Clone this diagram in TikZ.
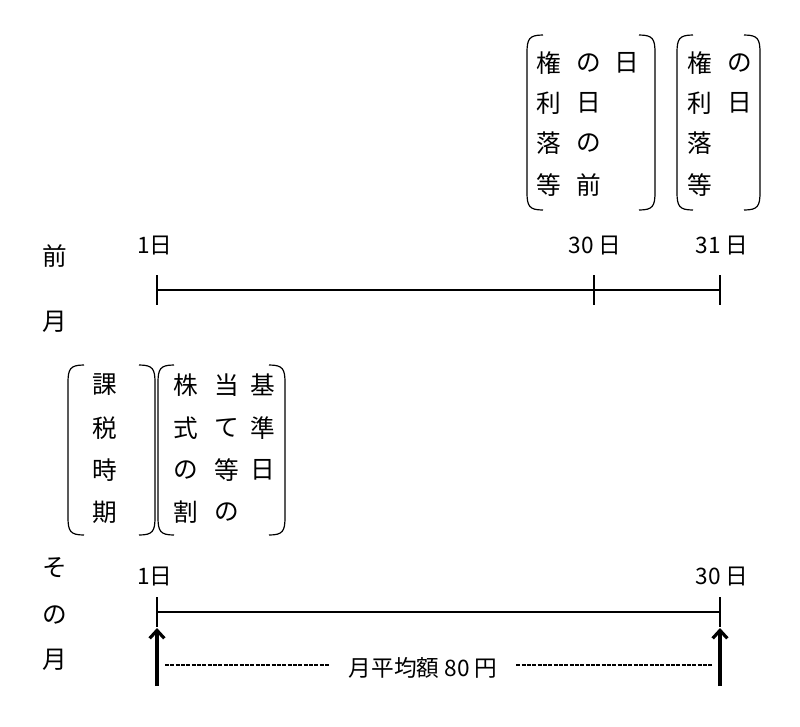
\documentclass[tikz,border=0pt]{standalone}
\usetikzlibrary{arrows.meta}
\usepackage{fontspec}
\setmainfont{Noto Sans CJK JP}
\setsansfont{Noto Sans CJK JP}
\begin{document}
\begin{tikzpicture}[x=0.75pt,y=-0.75pt,
  ch/.style={font=\fontsize{18.5}{18.5}\selectfont,inner sep=0pt},
  num/.style={font=\fontsize{17}{17}\selectfont,inner sep=0pt},
  ln/.style={line width=0.8pt},
  br/.style={line width=0.9pt},
  up/.style={line width=2.4pt,-{Straight Barb[length=6pt,width=11pt]}}]
\useasboundingbox (0,0) rectangle (800,726);
\newcommand{\brk}[4]{% x1 x2 top bottom
  \draw[br] (#1+16,#3) .. controls (#1+2,#3) and (#1,#3+4) .. (#1,#3+18) -- (#1,#4-18) .. controls (#1,#4-4) and (#1+2,#4) .. (#1+16,#4);
  \draw[br] (#2-16,#3) .. controls (#2-2,#3) and (#2,#3+4) .. (#2,#3+18) -- (#2,#4-18) .. controls (#2,#4-4) and (#2-2,#4) .. (#2-16,#4);}
% box 1
\brk{527}{655}{35}{210}
\foreach \c/\x/\y [count=\i] in {権/549/63,利/549/103,落/549/143,等/549/185,の/589/63,日/589/103,の/589/143,前/589/185,日/627/63}
  \node[ch] (b1\i) at (\x,\y) {\c};
% box 2
\brk{677}{760}{35}{210}
\foreach \c/\x/\y [count=\i] in {権/700/63,利/700/103,落/700/143,等/700/185,の/740/63,日/740/103}
  \node[ch] (b2\i) at (\x,\y) {\c};
% box 3
\brk{68}{155}{365}{535}
\foreach \c/\x/\y [count=\i] in {課/105/385,税/105/428,時/105/470,期/105/512}
  \node[ch] (b3\i) at (\x,\y) {\c};
% box 4
\brk{158}{285}{365}{535}
\foreach \c/\x/\y [count=\i] in {株/186/385,式/186/428,の/186/470,割/186/512,当/227/385,て/227/428,等/227/470,の/227/512,基/263/385,準/263/428,日/263/470}
  \node[ch] (b4\i) at (\x,\y) {\c};
% side labels
\node[ch] (m1) at (55,256) {前};
\node[ch] (m2) at (55,322) {月};
\node[ch] (s1) at (55,568) {そ};
\node[ch] (s2) at (55,615) {の};
\node[ch] (s3) at (55,660) {月};
% top timeline
\coordinate (t1) at (157,290); \coordinate (t30) at (594,290); \coordinate (t31) at (720,290);
\draw[ln] (t1) -- (t31);
\foreach \p in {t1,t30,t31} \draw[ln] ([yshift=-11]\p) -- ([yshift=11]\p);
\node[num] (l1) at (155,246) {1日};
\node[num] (l30) at (595,246) {30 日};
\node[num] (l31) at (722,246) {31 日};
% bottom timeline
\coordinate (u1) at (157,612); \coordinate (u30) at (720,612);
\draw[ln] (u1) -- (u30);
\foreach \p in {u1,u30} \draw[ln] ([yshift=-11]\p) -- ([yshift=11]\p);
\node[num] (k1) at (155,577) {1日};
\node[num] (k30) at (722,577) {30 日};
% arrows
\coordinate (a1) at (157,686); \coordinate (a1t) at (157,628);
\coordinate (a2) at (720,686); \coordinate (a2t) at (720,628);
\draw[up] (a1) -- (a1t);
\draw[up] (a2) -- (a2t);
\node[num,inner xsep=14pt] (avg) at (423,668) {月平均額 80 円};
\coordinate (d1) at (165,665); \coordinate (d2) at (712,665);
\draw[line width=1.6pt,dash pattern=on 3pt off 1pt] (d1) -- (d1 -| avg.west);
\draw[line width=1.6pt,dash pattern=on 3pt off 1pt] (d2 -| avg.east) -- (d2);
\end{tikzpicture}
\end{document}
